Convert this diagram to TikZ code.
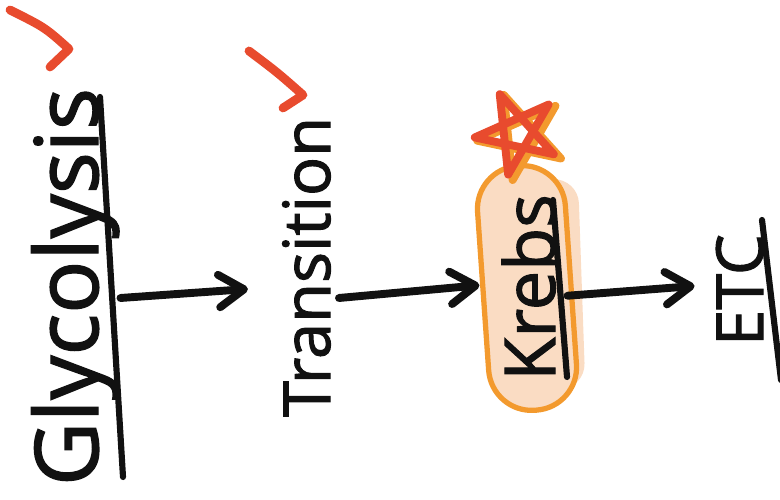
\documentclass[tikz,border=0pt]{standalone}
\usepackage{fontspec}
\setmainfont{Open Sans}[FakeBold=1.6]
\usepackage{xcolor}
\usetikzlibrary{arrows.meta,calc,positioning}
\definecolor{ink}{HTML}{111111}
\definecolor{checkred}{HTML}{E84B2E}
\definecolor{krebsline}{HTML}{F39A2E}
\definecolor{krebsfill}{HTML}{FADCC3}
\tikzset{
  stage/.style={rotate=90,anchor=base,inner sep=0pt,text=ink},
  flow/.style={ink,line width=4.5pt,line cap=round,line join=round,
    -{Straight Barb[length=5mm,width=6.5mm,round]}},
  uline/.style={ink,line width=3.5pt,line cap=round},
  check/.style={checkred,line width=5pt,line cap=round,line join=round},
  starline/.style={line width=4.5pt,line cap=round,line join=round}
}

\begin{document}
\begin{tikzpicture}[scale=1.0]
  \useasboundingbox (0,0) rectangle (15.6,10);
  % krebs pill
  \node[fill=krebsfill,rotate=92,minimum width=4.2cm,minimum height=1.95cm,
    rounded corners=0.5cm] (krebsblob) at (10.66,4.3) {};
  \node[draw=krebsline,fill=krebsfill,line width=3pt,rotate=94,
    minimum width=4.9cm,minimum height=1.76cm,rounded corners=0.86cm]
    (krebsbox) at (10.54,4.24) {};
  % stages
  \node[stage,font=\fontsize{50}{50}\selectfont] (glyc) at (1.96,4.26) {Glycolysis};
  \node[stage,font=\fontsize{37}{37}\selectfont] (trans) at (6.6,4.66) {Transition};
  \node[stage,font=\fontsize{40}{40}\selectfont] (krebs) at (11.1,4.25) {Krebs};
  \node[stage,font=\fontsize{37}{37}\selectfont] (etc) at (15.26,4.2) {ETC};
  % underlines
  \draw[uline] (2.0,8.06) -- (2.46,0.46);
  \draw[uline] (11.06,6.0) -- (11.34,2.46);
  \draw[uline] (15.24,5.6) -- (15.62,2.4);
  % arrows
  \draw[flow] ([shift={(0.02,-0.22)}]glyc.south) -- ([shift={(-0.68,-0.44)}]trans.north);
  \draw[flow] ([shift={(0.16,-0.62)}]trans.south) -- ([shift={(-0.02,0.12)}]krebsbox.north);
  \draw[flow] ([shift={(-0.12,-0.22)}]krebsbox.south) -- ([shift={(-0.42,0.08)}]etc.north);
  % ticks
  \draw[check] (0.2,9.8) .. controls (0.9,9.45) .. (1.38,9.02) -- (1.0,8.66);
  \draw[check] (4.98,8.98) .. controls (5.55,8.55) .. (6.06,8.1) -- (5.66,7.84);
  % star
  \begin{scope}[shift={(10.34,7.34)}]
    \draw[starline,krebsline,shift={(0.1,-0.06)}] (114:0.9)
      \foreach \k in {1,...,4} { -- ({114+144*\k}:0.9) } -- cycle;
    \draw[starline,checkred] (114:0.85)
      \foreach \k in {1,...,4} { -- ({114+144*\k}:0.85) } -- cycle;
  \end{scope}
\end{tikzpicture}
\end{document}
